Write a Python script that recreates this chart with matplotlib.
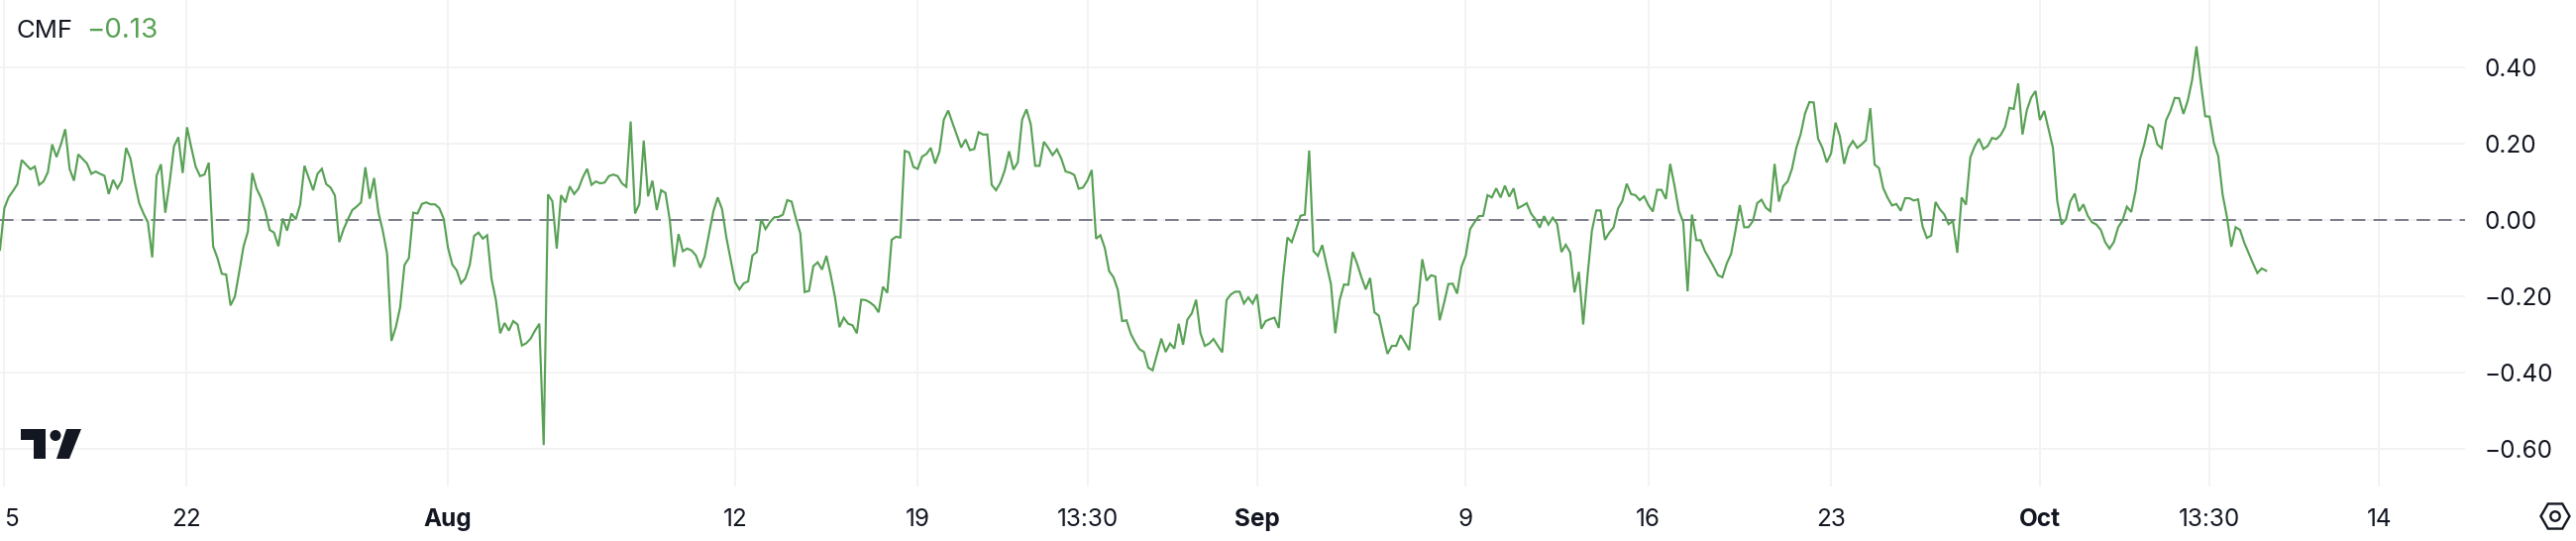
import matplotlib
matplotlib.use('Agg')
import matplotlib.pyplot as plt
from matplotlib.patches import Circle, Polygon, RegularPolygon

### Values, one per 4h bar
cmf_values = [
    -.077, .032, .061, .077, .095, .158, .146, .134, .141, .093,
    .102, .126, .199, .166, .199, .239, .135, .104, .173, .161,
    .149, .122, .128, .122, .117, .069, .106, .084, .104, .190,
    .162, .099, .045, .018, -.005, -.097, .117, .147, .020, .099,
    .194, .218, .124, .244, .190, .140, .116, .120, .151, -.068,
    -.099, -.140, -.142, -.223, -.200, -.135, -.068, -.029, .124, .083,
    .059, .025, -.025, -.032, -.068, .005, -.027, .018, .003, .041,
    .143, .111, .079, .122, .135, .095, .086, .065, -.057, -.023,
    .003, .027, .036, .047, .139, .057, .111, .021, -.027, -.088,
    -.316, -.280, -.228, -.117, -.099, .020, .018, .043, .047, .042,
    .042, .032, .005, -.072, -.116, -.131, -.165, -.152, -.117, -.041,
    -.032, -.048, -.039, -.153, -.208, -.296, -.269, -.289, -.264, -.273,
    -.328, -.322, -.310, -.289, -.271, -.589, .068, .050, -.074, .066,
    .047, .089, .069, .083, .113, .135, .093, .102, .097, .099,
    .116, .120, .116, .097, .088, .259, .018, .043, .209, .063,
    .104, .027, .079, .072, 0, -.122, -.036, -.081, -.074, -.079,
    -.092, -.124, -.095, -.036, .023, .060, .030, -.045, -.104, -.162,
    -.181, -.165, -.160, -.092, -.083, .003, -.023, -.005, .008, .009,
    .015, .053, .049, .005, -.034, -.188, -.185, -.120, -.110, -.129,
    -.093, -.144, -.203, -.280, -.255, -.271, -.275, -.296, -.208, -.209,
    -.215, -.224, -.241, -.174, -.190, -.051, -.043, -.045, .182, .178,
    .140, .135, .167, .174, .190, .149, .181, .264, .288, .255,
    .223, .191, .212, .184, .187, .231, .225, .225, .093, .079,
    .099, .131, .181, .133, .152, .264, .291, .251, .143, .143,
    .206, .190, .171, .186, .162, .128, .125, .119, .083, .086,
    .104, .132, -.048, -.039, -.072, -.133, -.149, -.182, -.264, -.262,
    -.298, -.320, -.338, -.345, -.386, -.393, -.352, -.310, -.345, -.323,
    -.336, -.271, -.326, -.260, -.244, -.208, -.296, -.329, -.323, -.311,
    -.329, -.346, -.209, -.194, -.187, -.187, -.218, -.202, -.218, -.194,
    -.284, -.264, -.259, -.255, -.282, -.149, -.045, -.057, -.023, .012,
    .015, .183, -.081, -.093, -.065, -.117, -.167, -.296, -.209, -.168,
    -.169, -.083, -.113, -.149, -.181, -.151, -.241, -.250, -.302, -.350,
    -.329, -.329, -.301, -.320, -.340, -.230, -.217, -.102, -.158, -.144,
    -.147, -.262, -.217, -.167, -.166, -.192, -.122, -.092, -.023, -.005,
    .011, .012, .066, .060, .084, .060, .091, .062, .084, .032,
    .038, .045, .018, .003, -.019, .011, -.011, .007, -.009, -.083,
    -.064, -.084, -.189, -.135, -.273, -.144, -.027, .026, .026, -.051,
    -.032, -.018, .031, .051, .096, .069, .066, .053, .063, .040,
    .023, .080, .080, .056, .148, .090, .025, -.005, -.186, .015,
    -.052, -.052, -.081, -.101, -.122, -.144, -.149, -.113, -.088, -.027,
    .040, -.018, -.018, -.002, .045, .054, .033, .024, .148, .049,
    .090, .102, .135, .190, .226, .280, .310, .309, .214, .190,
    .152, .176, .256, .221, .148, .190, .208, .190, .199, .210,
    .294, .146, .137, .084, .059, .039, .043, .025, .058, .058,
    .052, .055, -.015, -.046, -.040, .048, .029, .016, -.010, -.002,
    -.085, .060, .041, .165, .194, .214, .187, .195, .216, .213,
    .224, .245, .295, .292, .359, .225, .289, .322, .339, .263,
    .287, .239, .190, .050, -.011, .003, .050, .070, .024, .042,
    .012, -.005, -.011, -.025, -.057, -.074, -.057, -.018, 0, .036,
    .022, .077, .160, .199, .250, .243, .199, .189, .262, .287,
    .321, .320, .279, .314, .368, .456, .361, .273, .272, .203,
    .169, .068, .009, -.069, -.018, -.025, -.059, -.086, -.113, -.138,
    -.126, -.132,
]
bars = list(range(len(cmf_values)))

x_tick_bars = [0.9, 42.9, 103, 169, 211, 250, 289, 337, 379, 421, 469, 508, 547]
x_tick_labels = ['5', '22', 'Aug', '12', '19', '13:30', 'Sep', '9', '16', '23', 'Oct', '13:30', '14']
bold_labels = ['Aug', 'Sep', 'Oct']
y_ticks = [0.4, 0.2, 0.0, -0.2, -0.4, -0.6]
y_tick_labels = ['0.40', '0.20', '0.00', '\u22120.20', '\u22120.40', '\u22120.60']

GREEN = '#58A155'
DARK = '#131722'
GRID = '#F3F3F4'

plt.rcParams['font.family'] = ['Inter', 'DejaVu Sans']

fig = plt.figure(figsize=(26, 5.46), dpi=100)

# Main pane, sizes from the reference in pixels
ax = fig.add_axes([0, 1 - 490.6 / 546, 2488 / 2600, 490.6 / 546])
ax.set_xlim(0, 2488 / 4.39)
ax.set_ylim(-0.6966, 0.5776)
for side in ax.spines:
    ax.spines[side].set_visible(False)

ax.set_axisbelow(True)
ax.grid(True, color=GRID, linewidth=1.4)
ax.axhline(0, color='#787B86', linewidth=1.4, dashes=(7, 4.2), zorder=2)
ax.plot(bars, cmf_values, color=GREEN, linewidth=1.55, solid_joinstyle='miter', zorder=3)

ax.set_xticks(x_tick_bars)
ax.set_xticklabels(x_tick_labels)
ax.set_yticks(y_ticks)
ax.set_yticklabels(y_tick_labels)
ax.yaxis.tick_right()
ax.tick_params(axis='both', length=0, labelsize=17.5, labelcolor=DARK)
ax.tick_params(axis='x', pad=16)
ax.tick_params(axis='y', pad=14)
for lbl in ax.get_yticklabels():
    lbl.set_ha('left')
    lbl.set_va('center_baseline')
for lbl in ax.get_xticklabels():
    if lbl.get_text() in bold_labels:
        lbl.set_fontweight('bold')
    if lbl.get_text() == '5':
        lbl.set_ha('left')

# Overlay in pixel coordinates for legend, logo and settings icon
over = fig.add_axes([0, 0, 1, 1])
over.set_xlim(0, 2600)
over.set_ylim(546, 0)
over.axis('off')
over.patch.set_alpha(0)

over.text(16, 31.5, 'CMF', color=DARK, fontsize=18.5, va='center', ha='left')
over.text(87, 31.5, '\u22120.13', color=GREEN, fontsize=20, va='center', ha='left')

# TradingView logo
over.add_patch(Polygon([(21, 433), (46, 433), (46, 463), (34, 463), (34, 444), (21, 444)],
                       closed=True, color=DARK, lw=0))
over.add_patch(Circle((56, 439.5), 5.5, color=DARK, lw=0))
over.add_patch(Polygon([(67, 433), (82, 433), (70, 463), (57, 463)], closed=True, color=DARK, lw=0))

# Settings hexagon
over.add_patch(RegularPolygon((2579, 521), 6, radius=14.5, orientation=3.14159 / 6,
                              fill=False, edgecolor=DARK, linewidth=1.7))
over.add_patch(Circle((2579, 521), 4.7, fill=False, edgecolor=DARK, linewidth=1.7))

fig.savefig('out.png', dpi=100, facecolor='white')
